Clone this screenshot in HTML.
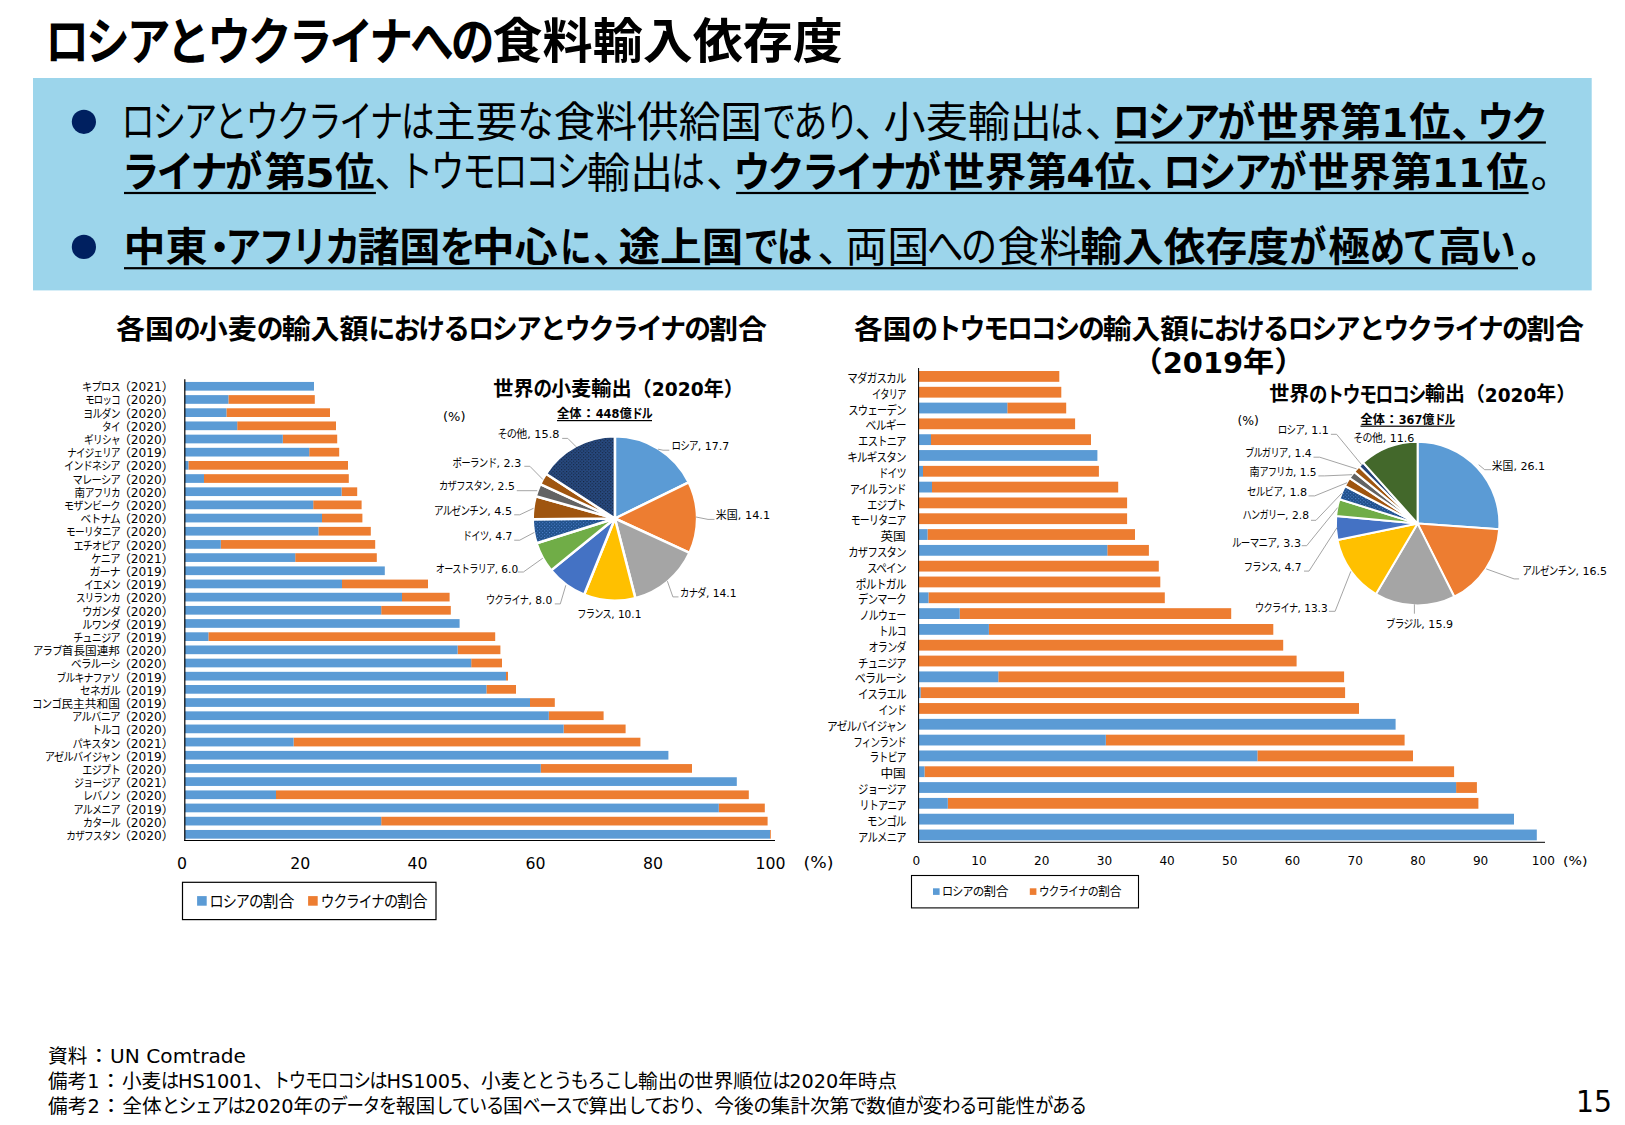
<!DOCTYPE html>
<html lang="ja"><head><meta charset="utf-8"><title>ロシアとウクライナへの食料輸入依存度</title>
<style>html,body{margin:0;padding:0;background:#fff}body{width:1625px;height:1125px;overflow:hidden}</style></head>
<body>
<svg width="1625" height="1125" viewBox="0 0 1625 1125" style="display:block;font-family:'DejaVu Sans','Liberation Sans','Noto Sans CJK JP',sans-serif">
<rect x="33.00" y="78.00" width="1558.70" height="212.40" fill="#9CD5EB"/>
<circle cx="83.9" cy="121.8" r="12.1" fill="#002060"/>
<circle cx="83.9" cy="246.9" r="12.1" fill="#002060"/>
<text font-size="47.60"><tspan x="45.35" y="60.10" font-size="50.93" letter-spacing="-0.070em" textLength="446.06" lengthAdjust="spacingAndGlyphs" font-weight="700">ロシアとウクライナへの</tspan><tspan x="492.55" y="58.01" font-size="47.60" letter-spacing="0.000em" textLength="350.35" lengthAdjust="spacingAndGlyphs" font-weight="700">食料輸入依存度</tspan></text>
<text font-size="41.80"><tspan x="121.35" y="136.50" font-size="43.05" letter-spacing="-0.070em" textLength="310.78" lengthAdjust="spacingAndGlyphs" font-weight="400">ロシアとウクライナは</tspan><tspan x="433.70" y="137.13" font-size="41.80" letter-spacing="0.000em" textLength="83.68" lengthAdjust="spacingAndGlyphs" font-weight="400">主要</tspan><tspan x="517.14" y="136.50" font-size="43.05" letter-spacing="-0.070em" textLength="33.86" lengthAdjust="spacingAndGlyphs" font-weight="400">な</tspan><tspan x="553.74" y="137.13" font-size="41.80" letter-spacing="0.000em" textLength="208.30" lengthAdjust="spacingAndGlyphs" font-weight="400">食料供給国</tspan><tspan x="761.88" y="136.50" font-size="43.05" letter-spacing="-0.070em" textLength="94.79" lengthAdjust="spacingAndGlyphs" font-weight="400">であり</tspan><tspan x="854.30" y="136.50" font-size="41.80" font-weight="400">、</tspan><tspan x="883.63" y="137.13" font-size="41.80" letter-spacing="0.000em" textLength="168.29" lengthAdjust="spacingAndGlyphs" font-weight="400">小麦輸出</tspan><tspan x="1049.60" y="136.50" font-size="43.05" letter-spacing="-0.070em" textLength="31.52" lengthAdjust="spacingAndGlyphs" font-weight="400">は</tspan><tspan x="1084.80" y="136.50" font-size="41.80" font-weight="400">、</tspan><tspan x="1112.49" y="136.50" font-size="42.59" letter-spacing="-0.070em" textLength="140.02" lengthAdjust="spacingAndGlyphs" font-weight="700">ロシアが</tspan><tspan x="1256.84" y="135.58" font-size="39.80" letter-spacing="0.000em" textLength="124.94" lengthAdjust="spacingAndGlyphs" font-weight="700">世界第</tspan><tspan x="1381.35" y="136.50" font-size="39.80" letter-spacing="0.000em" textLength="26.89" lengthAdjust="spacingAndGlyphs" font-weight="700">1</tspan><tspan x="1409.28" y="135.58" font-size="39.80" letter-spacing="0.000em" textLength="41.45" lengthAdjust="spacingAndGlyphs" font-weight="700">位</tspan><tspan x="1451.24" y="136.50" font-size="39.80" font-weight="700">、</tspan><tspan x="1477.15" y="136.50" font-size="42.59" letter-spacing="-0.070em" textLength="68.44" lengthAdjust="spacingAndGlyphs" font-weight="700">ウク</tspan></text>
<rect x="1114.80" y="141.40" width="431.10" height="2.20" fill="#000"/>
<text font-size="41.80"><tspan x="122.09" y="187.00" font-size="42.59" letter-spacing="-0.070em" textLength="137.56" lengthAdjust="spacingAndGlyphs" font-weight="700">ライナが</tspan><tspan x="264.36" y="186.08" font-size="39.80" letter-spacing="0.000em" textLength="42.14" lengthAdjust="spacingAndGlyphs" font-weight="700">第</tspan><tspan x="304.99" y="187.00" font-size="39.80" letter-spacing="0.000em" textLength="29.74" lengthAdjust="spacingAndGlyphs" font-weight="700">5</tspan><tspan x="334.91" y="186.08" font-size="39.80" letter-spacing="0.000em" textLength="39.58" lengthAdjust="spacingAndGlyphs" font-weight="700">位</tspan><tspan x="373.95" y="187.00" font-size="41.80" font-weight="400">、</tspan><tspan x="399.34" y="187.00" font-size="43.05" letter-spacing="-0.070em" textLength="188.65" lengthAdjust="spacingAndGlyphs" font-weight="400">トウモロコシ</tspan><tspan x="586.87" y="187.63" font-size="41.80" letter-spacing="0.000em" textLength="86.37" lengthAdjust="spacingAndGlyphs" font-weight="400">輸出</tspan><tspan x="670.90" y="187.00" font-size="43.05" letter-spacing="-0.070em" textLength="31.52" lengthAdjust="spacingAndGlyphs" font-weight="400">は</tspan><tspan x="705.95" y="187.00" font-size="41.80" font-weight="400">、</tspan><tspan x="733.46" y="187.00" font-size="42.59" letter-spacing="-0.070em" textLength="204.70" lengthAdjust="spacingAndGlyphs" font-weight="700">ウクライナが</tspan><tspan x="943.35" y="186.08" font-size="39.80" letter-spacing="0.000em" textLength="124.01" lengthAdjust="spacingAndGlyphs" font-weight="700">世界第</tspan><tspan x="1066.17" y="187.00" font-size="39.80" letter-spacing="0.000em" textLength="28.29" lengthAdjust="spacingAndGlyphs" font-weight="700">4</tspan><tspan x="1094.49" y="186.08" font-size="39.80" letter-spacing="0.000em" textLength="41.04" lengthAdjust="spacingAndGlyphs" font-weight="700">位</tspan><tspan x="1136.39" y="187.00" font-size="39.80" font-weight="700">、</tspan><tspan x="1162.96" y="187.00" font-size="42.59" letter-spacing="-0.070em" textLength="140.94" lengthAdjust="spacingAndGlyphs" font-weight="700">ロシアが</tspan><tspan x="1307.95" y="186.08" font-size="39.80" letter-spacing="0.000em" textLength="124.11" lengthAdjust="spacingAndGlyphs" font-weight="700">世界第</tspan><tspan x="1432.07" y="187.00" font-size="39.80" letter-spacing="0.000em" textLength="52.29" lengthAdjust="spacingAndGlyphs" font-weight="700">11</tspan><tspan x="1486.27" y="186.08" font-size="39.80" letter-spacing="0.000em" textLength="42.18" lengthAdjust="spacingAndGlyphs" font-weight="700">位</tspan><tspan x="1530.45" y="187.00" font-size="41.80" font-weight="400">。</tspan></text>
<rect x="124.00" y="191.90" width="251.90" height="2.20" fill="#000"/>
<rect x="736.10" y="191.90" width="792.50" height="2.20" fill="#000"/>
<text font-size="41.80"><tspan x="123.63" y="260.88" font-size="39.80" letter-spacing="0.000em" textLength="83.93" lengthAdjust="spacingAndGlyphs" font-weight="700">中東</tspan><tspan x="199.80" y="261.80" font-size="39.80" font-weight="700">・</tspan><tspan x="225.60" y="261.80" font-size="42.59" letter-spacing="-0.070em" textLength="132.35" lengthAdjust="spacingAndGlyphs" font-weight="700">アフリカ</tspan><tspan x="358.06" y="260.88" font-size="39.80" letter-spacing="0.000em" textLength="82.65" lengthAdjust="spacingAndGlyphs" font-weight="700">諸国</tspan><tspan x="439.68" y="261.80" font-size="42.59" letter-spacing="-0.070em" textLength="33.60" lengthAdjust="spacingAndGlyphs" font-weight="700">を</tspan><tspan x="471.85" y="260.88" font-size="39.80" letter-spacing="0.000em" textLength="85.80" lengthAdjust="spacingAndGlyphs" font-weight="700">中心</tspan><tspan x="560.43" y="261.80" font-size="42.59" letter-spacing="-0.070em" textLength="28.79" lengthAdjust="spacingAndGlyphs" font-weight="700">に</tspan><tspan x="593.04" y="261.80" font-size="39.80" font-weight="700">、</tspan><tspan x="618.46" y="260.88" font-size="39.80" letter-spacing="0.000em" textLength="124.87" lengthAdjust="spacingAndGlyphs" font-weight="700">途上国</tspan><tspan x="743.72" y="261.80" font-size="42.59" letter-spacing="-0.070em" textLength="65.95" lengthAdjust="spacingAndGlyphs" font-weight="700">では</tspan><tspan x="817.35" y="261.80" font-size="41.80" font-weight="400">、</tspan><tspan x="845.18" y="262.43" font-size="41.80" letter-spacing="0.000em" textLength="84.09" lengthAdjust="spacingAndGlyphs" font-weight="400">両国</tspan><tspan x="926.91" y="261.80" font-size="43.05" letter-spacing="-0.070em" textLength="67.71" lengthAdjust="spacingAndGlyphs" font-weight="400">への</tspan><tspan x="997.42" y="262.43" font-size="41.80" letter-spacing="0.000em" textLength="84.05" lengthAdjust="spacingAndGlyphs" font-weight="400">食料</tspan><tspan x="1080.25" y="260.88" font-size="39.80" letter-spacing="0.000em" textLength="208.60" lengthAdjust="spacingAndGlyphs" font-weight="700">輸入依存度</tspan><tspan x="1289.12" y="261.80" font-size="42.59" letter-spacing="-0.070em" textLength="34.90" lengthAdjust="spacingAndGlyphs" font-weight="700">が</tspan><tspan x="1328.26" y="260.88" font-size="39.80" letter-spacing="0.000em" textLength="41.67" lengthAdjust="spacingAndGlyphs" font-weight="700">極</tspan><tspan x="1370.12" y="261.80" font-size="42.59" letter-spacing="-0.070em" textLength="65.37" lengthAdjust="spacingAndGlyphs" font-weight="700">めて</tspan><tspan x="1437.90" y="260.88" font-size="39.80" letter-spacing="0.000em" textLength="43.41" lengthAdjust="spacingAndGlyphs" font-weight="700">高</tspan><tspan x="1479.85" y="261.80" font-size="42.59" letter-spacing="-0.070em" textLength="33.30" lengthAdjust="spacingAndGlyphs" font-weight="700">い</tspan><tspan x="1520.89" y="261.80" font-size="39.80" font-weight="700">。</tspan></text>
<rect x="124.00" y="267.10" width="1394.00" height="2.20" fill="#000"/>
<text font-size="27.00" font-weight="700" fill="#000"><tspan x="116.00" y="338.58" font-size="27.00" textLength="57.92" lengthAdjust="spacingAndGlyphs">各国</tspan><tspan x="173.92" y="339.20" font-size="28.89" letter-spacing="-0.070em" textLength="24.90" lengthAdjust="spacingAndGlyphs">の</tspan><tspan x="198.82" y="338.58" font-size="27.00" textLength="57.92" lengthAdjust="spacingAndGlyphs">小麦</tspan><tspan x="256.74" y="339.20" font-size="28.89" letter-spacing="-0.070em" textLength="24.90" lengthAdjust="spacingAndGlyphs">の</tspan><tspan x="281.65" y="338.58" font-size="27.00" textLength="86.88" lengthAdjust="spacingAndGlyphs">輸入額</tspan><tspan x="368.52" y="339.20" font-size="28.89" letter-spacing="-0.070em" textLength="99.62" lengthAdjust="spacingAndGlyphs">における</tspan><tspan x="468.14" y="339.20" font-size="28.89" letter-spacing="-0.070em" textLength="71.67" lengthAdjust="spacingAndGlyphs">ロシア</tspan><tspan x="539.82" y="339.20" font-size="28.89" letter-spacing="-0.070em" textLength="24.90" lengthAdjust="spacingAndGlyphs">と</tspan><tspan x="564.72" y="339.20" font-size="28.89" letter-spacing="-0.070em" textLength="119.46" lengthAdjust="spacingAndGlyphs">ウクライナ</tspan><tspan x="684.18" y="339.20" font-size="28.89" letter-spacing="-0.070em" textLength="24.90" lengthAdjust="spacingAndGlyphs">の</tspan><tspan x="709.08" y="338.58" font-size="27.00" textLength="57.92" lengthAdjust="spacingAndGlyphs">割合</tspan></text>
<text font-size="27.00" font-weight="700" fill="#000"><tspan x="854.00" y="338.58" font-size="27.00" textLength="57.41" lengthAdjust="spacingAndGlyphs">各国</tspan><tspan x="911.41" y="339.20" font-size="28.89" letter-spacing="-0.070em" textLength="24.69" lengthAdjust="spacingAndGlyphs">の</tspan><tspan x="936.10" y="339.20" font-size="28.89" letter-spacing="-0.070em" textLength="142.10" lengthAdjust="spacingAndGlyphs">トウモロコシ</tspan><tspan x="1078.20" y="339.20" font-size="28.89" letter-spacing="-0.070em" textLength="24.69" lengthAdjust="spacingAndGlyphs">の</tspan><tspan x="1102.88" y="338.58" font-size="27.00" textLength="86.12" lengthAdjust="spacingAndGlyphs">輸入額</tspan><tspan x="1189.00" y="339.20" font-size="28.89" letter-spacing="-0.070em" textLength="98.75" lengthAdjust="spacingAndGlyphs">における</tspan><tspan x="1287.75" y="339.20" font-size="28.89" letter-spacing="-0.070em" textLength="71.05" lengthAdjust="spacingAndGlyphs">ロシア</tspan><tspan x="1358.80" y="339.20" font-size="28.89" letter-spacing="-0.070em" textLength="24.69" lengthAdjust="spacingAndGlyphs">と</tspan><tspan x="1383.49" y="339.20" font-size="28.89" letter-spacing="-0.070em" textLength="118.41" lengthAdjust="spacingAndGlyphs">ウクライナ</tspan><tspan x="1501.90" y="339.20" font-size="28.89" letter-spacing="-0.070em" textLength="24.69" lengthAdjust="spacingAndGlyphs">の</tspan><tspan x="1526.59" y="338.58" font-size="27.00" textLength="57.41" lengthAdjust="spacingAndGlyphs">割合</tspan></text>
<text font-size="28.50" font-weight="700" fill="#000"><tspan x="1131.50" y="372.04" font-size="28.50" textLength="31.18" lengthAdjust="spacingAndGlyphs">（</tspan><tspan x="1162.68" y="372.70" font-size="28.50" textLength="80.45" lengthAdjust="spacingAndGlyphs">2019</tspan><tspan x="1243.13" y="372.04" font-size="28.50" textLength="31.18" lengthAdjust="spacingAndGlyphs">年</tspan><tspan x="1274.32" y="372.04" font-size="28.50" textLength="31.18" lengthAdjust="spacingAndGlyphs">）</tspan></text>
<rect x="184.80" y="381.94" width="129.20" height="8.70" fill="#5B9BD5"/>
<text font-size="11.30" font-weight="400" fill="#000"><tspan x="82.00" y="391.29" font-size="11.64" letter-spacing="-0.070em" textLength="37.90" lengthAdjust="spacingAndGlyphs">キプロス</tspan><tspan x="118.40" y="391.47" font-size="11.80" textLength="12.38" lengthAdjust="spacingAndGlyphs">（</tspan><tspan x="130.78" y="391.29" font-size="11.80" textLength="30.94" lengthAdjust="spacingAndGlyphs">2021</tspan><tspan x="161.72" y="391.47" font-size="11.80" textLength="12.38" lengthAdjust="spacingAndGlyphs">）</tspan></text>
<rect x="228.40" y="395.12" width="86.40" height="8.70" fill="#ED7D31"/>
<rect x="184.80" y="395.12" width="43.60" height="8.70" fill="#5B9BD5"/>
<text font-size="11.30" font-weight="400" fill="#000"><tspan x="85.20" y="404.49" font-size="11.64" letter-spacing="-0.070em" textLength="34.70" lengthAdjust="spacingAndGlyphs">モロッコ</tspan><tspan x="118.40" y="404.66" font-size="11.80" textLength="12.38" lengthAdjust="spacingAndGlyphs">（</tspan><tspan x="130.78" y="404.49" font-size="11.80" textLength="30.94" lengthAdjust="spacingAndGlyphs">2020</tspan><tspan x="161.72" y="404.66" font-size="11.80" textLength="12.38" lengthAdjust="spacingAndGlyphs">）</tspan></text>
<rect x="226.40" y="408.29" width="103.60" height="8.70" fill="#ED7D31"/>
<rect x="184.80" y="408.29" width="41.60" height="8.70" fill="#5B9BD5"/>
<text font-size="11.30" font-weight="400" fill="#000"><tspan x="83.30" y="417.68" font-size="11.64" letter-spacing="-0.070em" textLength="36.60" lengthAdjust="spacingAndGlyphs">ヨルダン</tspan><tspan x="118.40" y="417.86" font-size="11.80" textLength="12.38" lengthAdjust="spacingAndGlyphs">（</tspan><tspan x="130.78" y="417.68" font-size="11.80" textLength="30.94" lengthAdjust="spacingAndGlyphs">2020</tspan><tspan x="161.72" y="417.86" font-size="11.80" textLength="12.38" lengthAdjust="spacingAndGlyphs">）</tspan></text>
<rect x="237.20" y="421.47" width="98.80" height="8.70" fill="#ED7D31"/>
<rect x="184.80" y="421.47" width="52.40" height="8.70" fill="#5B9BD5"/>
<text font-size="11.30" font-weight="400" fill="#000"><tspan x="102.00" y="430.88" font-size="11.64" letter-spacing="-0.070em" textLength="17.90" lengthAdjust="spacingAndGlyphs">タイ</tspan><tspan x="118.40" y="431.06" font-size="11.80" textLength="12.38" lengthAdjust="spacingAndGlyphs">（</tspan><tspan x="130.78" y="430.88" font-size="11.80" textLength="30.94" lengthAdjust="spacingAndGlyphs">2020</tspan><tspan x="161.72" y="431.06" font-size="11.80" textLength="12.38" lengthAdjust="spacingAndGlyphs">）</tspan></text>
<rect x="282.80" y="434.65" width="54.40" height="8.70" fill="#ED7D31"/>
<rect x="184.80" y="434.65" width="98.00" height="8.70" fill="#5B9BD5"/>
<text font-size="11.30" font-weight="400" fill="#000"><tspan x="84.10" y="444.08" font-size="11.64" letter-spacing="-0.070em" textLength="35.80" lengthAdjust="spacingAndGlyphs">ギリシャ</tspan><tspan x="118.40" y="444.25" font-size="11.80" textLength="12.38" lengthAdjust="spacingAndGlyphs">（</tspan><tspan x="130.78" y="444.08" font-size="11.80" textLength="30.94" lengthAdjust="spacingAndGlyphs">2020</tspan><tspan x="161.72" y="444.25" font-size="11.80" textLength="12.38" lengthAdjust="spacingAndGlyphs">）</tspan></text>
<rect x="309.20" y="447.82" width="30.00" height="8.70" fill="#ED7D31"/>
<rect x="184.80" y="447.82" width="124.40" height="8.70" fill="#5B9BD5"/>
<text font-size="11.30" font-weight="400" fill="#000"><tspan x="67.30" y="457.27" font-size="11.64" letter-spacing="-0.070em" textLength="52.60" lengthAdjust="spacingAndGlyphs">ナイジェリア</tspan><tspan x="118.40" y="457.45" font-size="11.80" textLength="12.38" lengthAdjust="spacingAndGlyphs">（</tspan><tspan x="130.78" y="457.27" font-size="11.80" textLength="30.94" lengthAdjust="spacingAndGlyphs">2019</tspan><tspan x="161.72" y="457.45" font-size="11.80" textLength="12.38" lengthAdjust="spacingAndGlyphs">）</tspan></text>
<rect x="188.40" y="461.00" width="159.60" height="8.70" fill="#ED7D31"/>
<rect x="184.80" y="461.00" width="3.60" height="8.70" fill="#5B9BD5"/>
<text font-size="11.30" font-weight="400" fill="#000"><tspan x="64.10" y="470.47" font-size="11.64" letter-spacing="-0.070em" textLength="55.80" lengthAdjust="spacingAndGlyphs">インドネシア</tspan><tspan x="118.40" y="470.65" font-size="11.80" textLength="12.38" lengthAdjust="spacingAndGlyphs">（</tspan><tspan x="130.78" y="470.47" font-size="11.80" textLength="30.94" lengthAdjust="spacingAndGlyphs">2020</tspan><tspan x="161.72" y="470.65" font-size="11.80" textLength="12.38" lengthAdjust="spacingAndGlyphs">）</tspan></text>
<rect x="204.00" y="474.18" width="144.80" height="8.70" fill="#ED7D31"/>
<rect x="184.80" y="474.18" width="19.20" height="8.70" fill="#5B9BD5"/>
<text font-size="11.30" font-weight="400" fill="#000"><tspan x="72.60" y="483.67" font-size="11.64" letter-spacing="-0.070em" textLength="47.30" lengthAdjust="spacingAndGlyphs">マレーシア</tspan><tspan x="118.40" y="483.84" font-size="11.80" textLength="12.38" lengthAdjust="spacingAndGlyphs">（</tspan><tspan x="130.78" y="483.67" font-size="11.80" textLength="30.94" lengthAdjust="spacingAndGlyphs">2020</tspan><tspan x="161.72" y="483.84" font-size="11.80" textLength="12.38" lengthAdjust="spacingAndGlyphs">）</tspan></text>
<rect x="341.60" y="487.35" width="15.60" height="8.70" fill="#ED7D31"/>
<rect x="184.80" y="487.35" width="156.80" height="8.70" fill="#5B9BD5"/>
<text font-size="11.30" font-weight="400" fill="#000"><tspan x="74.50" y="497.03" font-size="11.30" textLength="10.56" lengthAdjust="spacingAndGlyphs">南</tspan><tspan x="85.06" y="496.86" font-size="11.64" letter-spacing="-0.070em" textLength="34.84" lengthAdjust="spacingAndGlyphs">アフリカ</tspan><tspan x="118.40" y="497.04" font-size="11.80" textLength="12.38" lengthAdjust="spacingAndGlyphs">（</tspan><tspan x="130.78" y="496.86" font-size="11.80" textLength="30.94" lengthAdjust="spacingAndGlyphs">2020</tspan><tspan x="161.72" y="497.04" font-size="11.80" textLength="12.38" lengthAdjust="spacingAndGlyphs">）</tspan></text>
<rect x="313.20" y="500.53" width="48.40" height="8.70" fill="#ED7D31"/>
<rect x="184.80" y="500.53" width="128.40" height="8.70" fill="#5B9BD5"/>
<text font-size="11.30" font-weight="400" fill="#000"><tspan x="64.10" y="510.06" font-size="11.64" letter-spacing="-0.070em" textLength="55.80" lengthAdjust="spacingAndGlyphs">モザンビーク</tspan><tspan x="118.40" y="510.24" font-size="11.80" textLength="12.38" lengthAdjust="spacingAndGlyphs">（</tspan><tspan x="130.78" y="510.06" font-size="11.80" textLength="30.94" lengthAdjust="spacingAndGlyphs">2020</tspan><tspan x="161.72" y="510.24" font-size="11.80" textLength="12.38" lengthAdjust="spacingAndGlyphs">）</tspan></text>
<rect x="322.00" y="513.71" width="40.40" height="8.70" fill="#ED7D31"/>
<rect x="184.80" y="513.71" width="137.20" height="8.70" fill="#5B9BD5"/>
<text font-size="11.30" font-weight="400" fill="#000"><tspan x="80.60" y="523.26" font-size="11.64" letter-spacing="-0.070em" textLength="39.30" lengthAdjust="spacingAndGlyphs">ベトナム</tspan><tspan x="118.40" y="523.44" font-size="11.80" textLength="12.38" lengthAdjust="spacingAndGlyphs">（</tspan><tspan x="130.78" y="523.26" font-size="11.80" textLength="30.94" lengthAdjust="spacingAndGlyphs">2020</tspan><tspan x="161.72" y="523.44" font-size="11.80" textLength="12.38" lengthAdjust="spacingAndGlyphs">）</tspan></text>
<rect x="318.40" y="526.89" width="52.40" height="8.70" fill="#ED7D31"/>
<rect x="184.80" y="526.89" width="133.60" height="8.70" fill="#5B9BD5"/>
<text font-size="11.30" font-weight="400" fill="#000"><tspan x="66.00" y="536.46" font-size="11.64" letter-spacing="-0.070em" textLength="53.90" lengthAdjust="spacingAndGlyphs">モーリタニア</tspan><tspan x="118.40" y="536.63" font-size="11.80" textLength="12.38" lengthAdjust="spacingAndGlyphs">（</tspan><tspan x="130.78" y="536.46" font-size="11.80" textLength="30.94" lengthAdjust="spacingAndGlyphs">2020</tspan><tspan x="161.72" y="536.63" font-size="11.80" textLength="12.38" lengthAdjust="spacingAndGlyphs">）</tspan></text>
<rect x="220.80" y="540.06" width="154.40" height="8.70" fill="#ED7D31"/>
<rect x="184.80" y="540.06" width="36.00" height="8.70" fill="#5B9BD5"/>
<text font-size="11.30" font-weight="400" fill="#000"><tspan x="73.40" y="549.65" font-size="11.64" letter-spacing="-0.070em" textLength="46.50" lengthAdjust="spacingAndGlyphs">エチオピア</tspan><tspan x="118.40" y="549.83" font-size="11.80" textLength="12.38" lengthAdjust="spacingAndGlyphs">（</tspan><tspan x="130.78" y="549.65" font-size="11.80" textLength="30.94" lengthAdjust="spacingAndGlyphs">2020</tspan><tspan x="161.72" y="549.83" font-size="11.80" textLength="12.38" lengthAdjust="spacingAndGlyphs">）</tspan></text>
<rect x="295.20" y="553.24" width="81.60" height="8.70" fill="#ED7D31"/>
<rect x="184.80" y="553.24" width="110.40" height="8.70" fill="#5B9BD5"/>
<text font-size="11.30" font-weight="400" fill="#000"><tspan x="91.30" y="562.85" font-size="11.64" letter-spacing="-0.070em" textLength="28.60" lengthAdjust="spacingAndGlyphs">ケニア</tspan><tspan x="118.40" y="563.03" font-size="11.80" textLength="12.38" lengthAdjust="spacingAndGlyphs">（</tspan><tspan x="130.78" y="562.85" font-size="11.80" textLength="30.94" lengthAdjust="spacingAndGlyphs">2021</tspan><tspan x="161.72" y="563.03" font-size="11.80" textLength="12.38" lengthAdjust="spacingAndGlyphs">）</tspan></text>
<rect x="184.80" y="566.42" width="200.00" height="8.70" fill="#5B9BD5"/>
<text font-size="11.30" font-weight="400" fill="#000"><tspan x="89.40" y="576.05" font-size="11.64" letter-spacing="-0.070em" textLength="30.50" lengthAdjust="spacingAndGlyphs">ガーナ</tspan><tspan x="118.40" y="576.22" font-size="11.80" textLength="12.38" lengthAdjust="spacingAndGlyphs">（</tspan><tspan x="130.78" y="576.05" font-size="11.80" textLength="30.94" lengthAdjust="spacingAndGlyphs">2019</tspan><tspan x="161.72" y="576.22" font-size="11.80" textLength="12.38" lengthAdjust="spacingAndGlyphs">）</tspan></text>
<rect x="342.00" y="579.59" width="86.00" height="8.70" fill="#ED7D31"/>
<rect x="184.80" y="579.59" width="157.20" height="8.70" fill="#5B9BD5"/>
<text font-size="11.30" font-weight="400" fill="#000"><tspan x="84.10" y="589.24" font-size="11.64" letter-spacing="-0.070em" textLength="35.80" lengthAdjust="spacingAndGlyphs">イエメン</tspan><tspan x="118.40" y="589.42" font-size="11.80" textLength="12.38" lengthAdjust="spacingAndGlyphs">（</tspan><tspan x="130.78" y="589.24" font-size="11.80" textLength="30.94" lengthAdjust="spacingAndGlyphs">2019</tspan><tspan x="161.72" y="589.42" font-size="11.80" textLength="12.38" lengthAdjust="spacingAndGlyphs">）</tspan></text>
<rect x="402.00" y="592.77" width="47.60" height="8.70" fill="#ED7D31"/>
<rect x="184.80" y="592.77" width="217.20" height="8.70" fill="#5B9BD5"/>
<text font-size="11.30" font-weight="400" fill="#000"><tspan x="76.10" y="602.44" font-size="11.64" letter-spacing="-0.070em" textLength="43.80" lengthAdjust="spacingAndGlyphs">スリランカ</tspan><tspan x="118.40" y="602.62" font-size="11.80" textLength="12.38" lengthAdjust="spacingAndGlyphs">（</tspan><tspan x="130.78" y="602.44" font-size="11.80" textLength="30.94" lengthAdjust="spacingAndGlyphs">2020</tspan><tspan x="161.72" y="602.62" font-size="11.80" textLength="12.38" lengthAdjust="spacingAndGlyphs">）</tspan></text>
<rect x="381.20" y="605.95" width="69.60" height="8.70" fill="#ED7D31"/>
<rect x="184.80" y="605.95" width="196.40" height="8.70" fill="#5B9BD5"/>
<text font-size="11.30" font-weight="400" fill="#000"><tspan x="82.30" y="615.64" font-size="11.64" letter-spacing="-0.070em" textLength="37.60" lengthAdjust="spacingAndGlyphs">ウガンダ</tspan><tspan x="118.40" y="615.81" font-size="11.80" textLength="12.38" lengthAdjust="spacingAndGlyphs">（</tspan><tspan x="130.78" y="615.64" font-size="11.80" textLength="30.94" lengthAdjust="spacingAndGlyphs">2020</tspan><tspan x="161.72" y="615.81" font-size="11.80" textLength="12.38" lengthAdjust="spacingAndGlyphs">）</tspan></text>
<rect x="184.80" y="619.12" width="274.80" height="8.70" fill="#5B9BD5"/>
<text font-size="11.30" font-weight="400" fill="#000"><tspan x="82.30" y="628.83" font-size="11.64" letter-spacing="-0.070em" textLength="37.60" lengthAdjust="spacingAndGlyphs">ルワンダ</tspan><tspan x="118.40" y="629.01" font-size="11.80" textLength="12.38" lengthAdjust="spacingAndGlyphs">（</tspan><tspan x="130.78" y="628.83" font-size="11.80" textLength="30.94" lengthAdjust="spacingAndGlyphs">2019</tspan><tspan x="161.72" y="629.01" font-size="11.80" textLength="12.38" lengthAdjust="spacingAndGlyphs">）</tspan></text>
<rect x="208.40" y="632.30" width="286.80" height="8.70" fill="#ED7D31"/>
<rect x="184.80" y="632.30" width="23.60" height="8.70" fill="#5B9BD5"/>
<text font-size="11.30" font-weight="400" fill="#000"><tspan x="73.20" y="642.03" font-size="11.64" letter-spacing="-0.070em" textLength="46.70" lengthAdjust="spacingAndGlyphs">チュニジア</tspan><tspan x="118.40" y="642.21" font-size="11.80" textLength="12.38" lengthAdjust="spacingAndGlyphs">（</tspan><tspan x="130.78" y="642.03" font-size="11.80" textLength="30.94" lengthAdjust="spacingAndGlyphs">2019</tspan><tspan x="161.72" y="642.21" font-size="11.80" textLength="12.38" lengthAdjust="spacingAndGlyphs">）</tspan></text>
<rect x="457.60" y="645.48" width="42.80" height="8.70" fill="#ED7D31"/>
<rect x="184.80" y="645.48" width="272.80" height="8.70" fill="#5B9BD5"/>
<text font-size="11.30" font-weight="400" fill="#000"><tspan x="33.00" y="655.23" font-size="11.64" letter-spacing="-0.070em" textLength="28.77" lengthAdjust="spacingAndGlyphs">アラブ</tspan><tspan x="61.77" y="655.40" font-size="11.30" textLength="58.13" lengthAdjust="spacingAndGlyphs">首長国連邦</tspan><tspan x="118.40" y="655.41" font-size="11.80" textLength="12.38" lengthAdjust="spacingAndGlyphs">（</tspan><tspan x="130.78" y="655.23" font-size="11.80" textLength="30.94" lengthAdjust="spacingAndGlyphs">2020</tspan><tspan x="161.72" y="655.41" font-size="11.80" textLength="12.38" lengthAdjust="spacingAndGlyphs">）</tspan></text>
<rect x="471.20" y="658.66" width="30.80" height="8.70" fill="#ED7D31"/>
<rect x="184.80" y="658.66" width="286.40" height="8.70" fill="#5B9BD5"/>
<text font-size="11.30" font-weight="400" fill="#000"><tspan x="71.10" y="668.43" font-size="11.64" letter-spacing="-0.070em" textLength="48.80" lengthAdjust="spacingAndGlyphs">ベラルーシ</tspan><tspan x="118.40" y="668.60" font-size="11.80" textLength="12.38" lengthAdjust="spacingAndGlyphs">（</tspan><tspan x="130.78" y="668.43" font-size="11.80" textLength="30.94" lengthAdjust="spacingAndGlyphs">2020</tspan><tspan x="161.72" y="668.60" font-size="11.80" textLength="12.38" lengthAdjust="spacingAndGlyphs">）</tspan></text>
<rect x="506.00" y="671.83" width="2.00" height="8.70" fill="#ED7D31"/>
<rect x="184.80" y="671.83" width="321.20" height="8.70" fill="#5B9BD5"/>
<text font-size="11.30" font-weight="400" fill="#000"><tspan x="56.50" y="681.62" font-size="11.64" letter-spacing="-0.070em" textLength="63.40" lengthAdjust="spacingAndGlyphs">ブルキナファソ</tspan><tspan x="118.40" y="681.80" font-size="11.80" textLength="12.38" lengthAdjust="spacingAndGlyphs">（</tspan><tspan x="130.78" y="681.62" font-size="11.80" textLength="30.94" lengthAdjust="spacingAndGlyphs">2019</tspan><tspan x="161.72" y="681.80" font-size="11.80" textLength="12.38" lengthAdjust="spacingAndGlyphs">）</tspan></text>
<rect x="486.40" y="685.01" width="29.60" height="8.70" fill="#ED7D31"/>
<rect x="184.80" y="685.01" width="301.60" height="8.70" fill="#5B9BD5"/>
<text font-size="11.30" font-weight="400" fill="#000"><tspan x="79.90" y="694.82" font-size="11.64" letter-spacing="-0.070em" textLength="40.00" lengthAdjust="spacingAndGlyphs">セネガル</tspan><tspan x="118.40" y="695.00" font-size="11.80" textLength="12.38" lengthAdjust="spacingAndGlyphs">（</tspan><tspan x="130.78" y="694.82" font-size="11.80" textLength="30.94" lengthAdjust="spacingAndGlyphs">2019</tspan><tspan x="161.72" y="695.00" font-size="11.80" textLength="12.38" lengthAdjust="spacingAndGlyphs">）</tspan></text>
<rect x="530.00" y="698.19" width="24.80" height="8.70" fill="#ED7D31"/>
<rect x="184.80" y="698.19" width="345.20" height="8.70" fill="#5B9BD5"/>
<text font-size="11.30" font-weight="400" fill="#000"><tspan x="32.10" y="708.02" font-size="11.64" letter-spacing="-0.070em" textLength="29.07" lengthAdjust="spacingAndGlyphs">コンゴ</tspan><tspan x="61.17" y="708.19" font-size="11.30" textLength="58.73" lengthAdjust="spacingAndGlyphs">民主共和国</tspan><tspan x="118.40" y="708.19" font-size="11.80" textLength="12.38" lengthAdjust="spacingAndGlyphs">（</tspan><tspan x="130.78" y="708.02" font-size="11.80" textLength="30.94" lengthAdjust="spacingAndGlyphs">2019</tspan><tspan x="161.72" y="708.19" font-size="11.80" textLength="12.38" lengthAdjust="spacingAndGlyphs">）</tspan></text>
<rect x="548.80" y="711.36" width="54.80" height="8.70" fill="#ED7D31"/>
<rect x="184.80" y="711.36" width="364.00" height="8.70" fill="#5B9BD5"/>
<text font-size="11.30" font-weight="400" fill="#000"><tspan x="72.00" y="721.21" font-size="11.64" letter-spacing="-0.070em" textLength="47.90" lengthAdjust="spacingAndGlyphs">アルバニア</tspan><tspan x="118.40" y="721.39" font-size="11.80" textLength="12.38" lengthAdjust="spacingAndGlyphs">（</tspan><tspan x="130.78" y="721.21" font-size="11.80" textLength="30.94" lengthAdjust="spacingAndGlyphs">2020</tspan><tspan x="161.72" y="721.39" font-size="11.80" textLength="12.38" lengthAdjust="spacingAndGlyphs">）</tspan></text>
<rect x="563.60" y="724.54" width="62.00" height="8.70" fill="#ED7D31"/>
<rect x="184.80" y="724.54" width="378.80" height="8.70" fill="#5B9BD5"/>
<text font-size="11.30" font-weight="400" fill="#000"><tspan x="91.70" y="734.41" font-size="11.64" letter-spacing="-0.070em" textLength="28.20" lengthAdjust="spacingAndGlyphs">トルコ</tspan><tspan x="118.40" y="734.59" font-size="11.80" textLength="12.38" lengthAdjust="spacingAndGlyphs">（</tspan><tspan x="130.78" y="734.41" font-size="11.80" textLength="30.94" lengthAdjust="spacingAndGlyphs">2020</tspan><tspan x="161.72" y="734.59" font-size="11.80" textLength="12.38" lengthAdjust="spacingAndGlyphs">）</tspan></text>
<rect x="293.60" y="737.72" width="346.80" height="8.70" fill="#ED7D31"/>
<rect x="184.80" y="737.72" width="108.80" height="8.70" fill="#5B9BD5"/>
<text font-size="11.30" font-weight="400" fill="#000"><tspan x="72.60" y="747.61" font-size="11.64" letter-spacing="-0.070em" textLength="47.30" lengthAdjust="spacingAndGlyphs">パキスタン</tspan><tspan x="118.40" y="747.78" font-size="11.80" textLength="12.38" lengthAdjust="spacingAndGlyphs">（</tspan><tspan x="130.78" y="747.61" font-size="11.80" textLength="30.94" lengthAdjust="spacingAndGlyphs">2021</tspan><tspan x="161.72" y="747.78" font-size="11.80" textLength="12.38" lengthAdjust="spacingAndGlyphs">）</tspan></text>
<rect x="184.80" y="750.89" width="483.60" height="8.70" fill="#5B9BD5"/>
<text font-size="11.30" font-weight="400" fill="#000"><tspan x="44.80" y="760.80" font-size="11.64" letter-spacing="-0.070em" textLength="75.10" lengthAdjust="spacingAndGlyphs">アゼルバイジャン</tspan><tspan x="118.40" y="760.98" font-size="11.80" textLength="12.38" lengthAdjust="spacingAndGlyphs">（</tspan><tspan x="130.78" y="760.80" font-size="11.80" textLength="30.94" lengthAdjust="spacingAndGlyphs">2019</tspan><tspan x="161.72" y="760.98" font-size="11.80" textLength="12.38" lengthAdjust="spacingAndGlyphs">）</tspan></text>
<rect x="540.80" y="764.07" width="151.20" height="8.70" fill="#ED7D31"/>
<rect x="184.80" y="764.07" width="356.00" height="8.70" fill="#5B9BD5"/>
<text font-size="11.30" font-weight="400" fill="#000"><tspan x="82.30" y="774.00" font-size="11.64" letter-spacing="-0.070em" textLength="37.60" lengthAdjust="spacingAndGlyphs">エジプト</tspan><tspan x="118.40" y="774.18" font-size="11.80" textLength="12.38" lengthAdjust="spacingAndGlyphs">（</tspan><tspan x="130.78" y="774.00" font-size="11.80" textLength="30.94" lengthAdjust="spacingAndGlyphs">2020</tspan><tspan x="161.72" y="774.18" font-size="11.80" textLength="12.38" lengthAdjust="spacingAndGlyphs">）</tspan></text>
<rect x="184.80" y="777.25" width="552.00" height="8.70" fill="#5B9BD5"/>
<text font-size="11.30" font-weight="400" fill="#000"><tspan x="74.10" y="787.20" font-size="11.64" letter-spacing="-0.070em" textLength="45.80" lengthAdjust="spacingAndGlyphs">ジョージア</tspan><tspan x="118.40" y="787.38" font-size="11.80" textLength="12.38" lengthAdjust="spacingAndGlyphs">（</tspan><tspan x="130.78" y="787.20" font-size="11.80" textLength="30.94" lengthAdjust="spacingAndGlyphs">2021</tspan><tspan x="161.72" y="787.38" font-size="11.80" textLength="12.38" lengthAdjust="spacingAndGlyphs">）</tspan></text>
<rect x="276.00" y="790.43" width="472.80" height="8.70" fill="#ED7D31"/>
<rect x="184.80" y="790.43" width="91.20" height="8.70" fill="#5B9BD5"/>
<text font-size="11.30" font-weight="400" fill="#000"><tspan x="82.90" y="800.40" font-size="11.64" letter-spacing="-0.070em" textLength="37.00" lengthAdjust="spacingAndGlyphs">レバノン</tspan><tspan x="118.40" y="800.57" font-size="11.80" textLength="12.38" lengthAdjust="spacingAndGlyphs">（</tspan><tspan x="130.78" y="800.40" font-size="11.80" textLength="30.94" lengthAdjust="spacingAndGlyphs">2020</tspan><tspan x="161.72" y="800.57" font-size="11.80" textLength="12.38" lengthAdjust="spacingAndGlyphs">）</tspan></text>
<rect x="718.80" y="803.60" width="46.00" height="8.70" fill="#ED7D31"/>
<rect x="184.80" y="803.60" width="534.00" height="8.70" fill="#5B9BD5"/>
<text font-size="11.30" font-weight="400" fill="#000"><tspan x="73.50" y="813.59" font-size="11.64" letter-spacing="-0.070em" textLength="46.40" lengthAdjust="spacingAndGlyphs">アルメニア</tspan><tspan x="118.40" y="813.77" font-size="11.80" textLength="12.38" lengthAdjust="spacingAndGlyphs">（</tspan><tspan x="130.78" y="813.59" font-size="11.80" textLength="30.94" lengthAdjust="spacingAndGlyphs">2019</tspan><tspan x="161.72" y="813.77" font-size="11.80" textLength="12.38" lengthAdjust="spacingAndGlyphs">）</tspan></text>
<rect x="381.20" y="816.78" width="386.40" height="8.70" fill="#ED7D31"/>
<rect x="184.80" y="816.78" width="196.40" height="8.70" fill="#5B9BD5"/>
<text font-size="11.30" font-weight="400" fill="#000"><tspan x="82.90" y="826.79" font-size="11.64" letter-spacing="-0.070em" textLength="37.00" lengthAdjust="spacingAndGlyphs">カタール</tspan><tspan x="118.40" y="826.97" font-size="11.80" textLength="12.38" lengthAdjust="spacingAndGlyphs">（</tspan><tspan x="130.78" y="826.79" font-size="11.80" textLength="30.94" lengthAdjust="spacingAndGlyphs">2020</tspan><tspan x="161.72" y="826.97" font-size="11.80" textLength="12.38" lengthAdjust="spacingAndGlyphs">）</tspan></text>
<rect x="770.00" y="829.96" width="0.80" height="8.70" fill="#ED7D31"/>
<rect x="184.80" y="829.96" width="585.20" height="8.70" fill="#5B9BD5"/>
<text font-size="11.30" font-weight="400" fill="#000"><tspan x="66.20" y="839.99" font-size="11.64" letter-spacing="-0.070em" textLength="53.70" lengthAdjust="spacingAndGlyphs">カザフスタン</tspan><tspan x="118.40" y="840.16" font-size="11.80" textLength="12.38" lengthAdjust="spacingAndGlyphs">（</tspan><tspan x="130.78" y="839.99" font-size="11.80" textLength="30.94" lengthAdjust="spacingAndGlyphs">2020</tspan><tspan x="161.72" y="840.16" font-size="11.80" textLength="12.38" lengthAdjust="spacingAndGlyphs">）</tspan></text>
<line x1="184.80" y1="379.20" x2="184.80" y2="841.10" stroke="#000" stroke-width="1.20"/>
<line x1="184.20" y1="840.50" x2="775.00" y2="840.50" stroke="#000" stroke-width="1.20"/>
<text font-size="16.00" font-weight="400" fill="#000"><tspan x="177.00" y="869.00" font-size="16.00" textLength="10.00" lengthAdjust="spacingAndGlyphs">0</tspan></text>
<text font-size="16.00" font-weight="400" fill="#000"><tspan x="290.20" y="869.00" font-size="16.00" textLength="20.00" lengthAdjust="spacingAndGlyphs">20</tspan></text>
<text font-size="16.00" font-weight="400" fill="#000"><tspan x="407.60" y="869.00" font-size="16.00" textLength="20.00" lengthAdjust="spacingAndGlyphs">40</tspan></text>
<text font-size="16.00" font-weight="400" fill="#000"><tspan x="525.40" y="869.00" font-size="16.00" textLength="20.00" lengthAdjust="spacingAndGlyphs">60</tspan></text>
<text font-size="16.00" font-weight="400" fill="#000"><tspan x="643.00" y="869.00" font-size="16.00" textLength="20.00" lengthAdjust="spacingAndGlyphs">80</tspan></text>
<text font-size="16.00" font-weight="400" fill="#000"><tspan x="755.60" y="869.00" font-size="16.00" textLength="30.00" lengthAdjust="spacingAndGlyphs">100</tspan></text>
<text font-size="15.50" font-weight="400" fill="#000"><tspan x="803.50" y="868.30" font-size="15.50" textLength="30.00" lengthAdjust="spacingAndGlyphs">(%)</tspan></text>
<rect x="182.50" y="882.30" width="253.50" height="37.30" fill="#fff" stroke="#000" stroke-width="1.2"/>
<rect x="197.10" y="896.10" width="9.60" height="9.60" fill="#5B9BD5"/>
<text font-size="15.50" font-weight="400" fill="#000"><tspan x="209.50" y="907.20" font-size="15.96" letter-spacing="-0.070em" textLength="39.43" lengthAdjust="spacingAndGlyphs">ロシア</tspan><tspan x="248.93" y="907.20" font-size="15.96" letter-spacing="-0.070em" textLength="13.70" lengthAdjust="spacingAndGlyphs">の</tspan><tspan x="262.63" y="907.43" font-size="15.50" textLength="31.87" lengthAdjust="spacingAndGlyphs">割合</tspan></text>
<rect x="308.10" y="896.10" width="9.60" height="9.60" fill="#ED7D31"/>
<text font-size="15.50" font-weight="400" fill="#000"><tspan x="320.70" y="907.20" font-size="15.96" letter-spacing="-0.070em" textLength="63.19" lengthAdjust="spacingAndGlyphs">ウクライナ</tspan><tspan x="383.89" y="907.20" font-size="15.96" letter-spacing="-0.070em" textLength="13.17" lengthAdjust="spacingAndGlyphs">の</tspan><tspan x="397.06" y="907.43" font-size="15.50" textLength="30.64" lengthAdjust="spacingAndGlyphs">割合</tspan></text>
<rect x="918.60" y="371.01" width="140.70" height="10.80" fill="#ED7D31"/>
<text font-size="12.00" font-weight="400" fill="#000"><tspan x="847.20" y="383.01" font-size="12.36" letter-spacing="-0.070em" textLength="58.60" lengthAdjust="spacingAndGlyphs">マダガスカル</tspan></text>
<rect x="918.60" y="386.82" width="142.70" height="10.80" fill="#ED7D31"/>
<text font-size="12.00" font-weight="400" fill="#000"><tspan x="872.00" y="398.82" font-size="12.36" letter-spacing="-0.070em" textLength="33.80" lengthAdjust="spacingAndGlyphs">イタリア</tspan></text>
<rect x="1007.30" y="402.63" width="58.90" height="10.80" fill="#ED7D31"/>
<rect x="918.60" y="402.63" width="88.70" height="10.80" fill="#5B9BD5"/>
<text font-size="12.00" font-weight="400" fill="#000"><tspan x="848.20" y="414.63" font-size="12.36" letter-spacing="-0.070em" textLength="57.60" lengthAdjust="spacingAndGlyphs">スウェーデン</tspan></text>
<rect x="918.60" y="418.44" width="156.50" height="10.80" fill="#ED7D31"/>
<text font-size="12.00" font-weight="400" fill="#000"><tspan x="865.60" y="430.44" font-size="12.36" letter-spacing="-0.070em" textLength="40.20" lengthAdjust="spacingAndGlyphs">ベルギー</tspan></text>
<rect x="931.00" y="434.25" width="160.00" height="10.80" fill="#ED7D31"/>
<rect x="918.60" y="434.25" width="12.40" height="10.80" fill="#5B9BD5"/>
<text font-size="12.00" font-weight="400" fill="#000"><tspan x="858.10" y="446.25" font-size="12.36" letter-spacing="-0.070em" textLength="47.70" lengthAdjust="spacingAndGlyphs">エストニア</tspan></text>
<rect x="918.60" y="450.07" width="178.80" height="10.80" fill="#5B9BD5"/>
<text font-size="12.00" font-weight="400" fill="#000"><tspan x="847.20" y="462.07" font-size="12.36" letter-spacing="-0.070em" textLength="58.60" lengthAdjust="spacingAndGlyphs">キルギスタン</tspan></text>
<rect x="923.00" y="465.88" width="175.90" height="10.80" fill="#ED7D31"/>
<rect x="918.60" y="465.88" width="4.40" height="10.80" fill="#5B9BD5"/>
<text font-size="12.00" font-weight="400" fill="#000"><tspan x="878.50" y="477.88" font-size="12.36" letter-spacing="-0.070em" textLength="27.30" lengthAdjust="spacingAndGlyphs">ドイツ</tspan></text>
<rect x="932.00" y="481.69" width="186.20" height="10.80" fill="#ED7D31"/>
<rect x="918.60" y="481.69" width="13.40" height="10.80" fill="#5B9BD5"/>
<text font-size="12.00" font-weight="400" fill="#000"><tspan x="849.70" y="493.69" font-size="12.36" letter-spacing="-0.070em" textLength="56.10" lengthAdjust="spacingAndGlyphs">アイルランド</tspan></text>
<rect x="918.60" y="497.50" width="208.50" height="10.80" fill="#ED7D31"/>
<text font-size="12.00" font-weight="400" fill="#000"><tspan x="867.10" y="509.50" font-size="12.36" letter-spacing="-0.070em" textLength="38.70" lengthAdjust="spacingAndGlyphs">エジプト</tspan></text>
<rect x="918.60" y="513.31" width="208.50" height="10.80" fill="#ED7D31"/>
<text font-size="12.00" font-weight="400" fill="#000"><tspan x="850.70" y="525.31" font-size="12.36" letter-spacing="-0.070em" textLength="55.10" lengthAdjust="spacingAndGlyphs">モーリタニア</tspan></text>
<rect x="927.50" y="529.13" width="207.50" height="10.80" fill="#ED7D31"/>
<rect x="918.60" y="529.13" width="8.90" height="10.80" fill="#5B9BD5"/>
<text font-size="12.00" font-weight="400" fill="#000"><tspan x="880.40" y="541.31" font-size="12.00" textLength="25.40" lengthAdjust="spacingAndGlyphs">英国</tspan></text>
<rect x="1107.30" y="544.94" width="41.60" height="10.80" fill="#ED7D31"/>
<rect x="918.60" y="544.94" width="188.70" height="10.80" fill="#5B9BD5"/>
<text font-size="12.00" font-weight="400" fill="#000"><tspan x="848.20" y="556.94" font-size="12.36" letter-spacing="-0.070em" textLength="57.60" lengthAdjust="spacingAndGlyphs">カザフスタン</tspan></text>
<rect x="918.60" y="560.75" width="240.20" height="10.80" fill="#ED7D31"/>
<text font-size="12.00" font-weight="400" fill="#000"><tspan x="867.10" y="572.75" font-size="12.36" letter-spacing="-0.070em" textLength="38.70" lengthAdjust="spacingAndGlyphs">スペイン</tspan></text>
<rect x="918.60" y="576.56" width="241.70" height="10.80" fill="#ED7D31"/>
<text font-size="12.00" font-weight="400" fill="#000"><tspan x="855.70" y="588.56" font-size="12.36" letter-spacing="-0.070em" textLength="50.10" lengthAdjust="spacingAndGlyphs">ポルトガル</tspan></text>
<rect x="928.50" y="592.37" width="236.30" height="10.80" fill="#ED7D31"/>
<rect x="918.60" y="592.37" width="9.90" height="10.80" fill="#5B9BD5"/>
<text font-size="12.00" font-weight="400" fill="#000"><tspan x="858.10" y="604.37" font-size="12.36" letter-spacing="-0.070em" textLength="47.70" lengthAdjust="spacingAndGlyphs">デンマーク</tspan></text>
<rect x="959.70" y="608.19" width="271.50" height="10.80" fill="#ED7D31"/>
<rect x="918.60" y="608.19" width="41.10" height="10.80" fill="#5B9BD5"/>
<text font-size="12.00" font-weight="400" fill="#000"><tspan x="859.60" y="620.19" font-size="12.36" letter-spacing="-0.070em" textLength="46.20" lengthAdjust="spacingAndGlyphs">ノルウェー</tspan></text>
<rect x="988.90" y="624.00" width="284.40" height="10.80" fill="#ED7D31"/>
<rect x="918.60" y="624.00" width="70.30" height="10.80" fill="#5B9BD5"/>
<text font-size="12.00" font-weight="400" fill="#000"><tspan x="878.50" y="636.00" font-size="12.36" letter-spacing="-0.070em" textLength="27.30" lengthAdjust="spacingAndGlyphs">トルコ</tspan></text>
<rect x="918.60" y="639.81" width="364.60" height="10.80" fill="#ED7D31"/>
<text font-size="12.00" font-weight="400" fill="#000"><tspan x="868.50" y="651.81" font-size="12.36" letter-spacing="-0.070em" textLength="37.30" lengthAdjust="spacingAndGlyphs">オランダ</tspan></text>
<rect x="918.60" y="655.62" width="378.00" height="10.80" fill="#ED7D31"/>
<text font-size="12.00" font-weight="400" fill="#000"><tspan x="858.10" y="667.62" font-size="12.36" letter-spacing="-0.070em" textLength="47.70" lengthAdjust="spacingAndGlyphs">チュニジア</tspan></text>
<rect x="998.30" y="671.43" width="345.80" height="10.80" fill="#ED7D31"/>
<rect x="918.60" y="671.43" width="79.70" height="10.80" fill="#5B9BD5"/>
<text font-size="12.00" font-weight="400" fill="#000"><tspan x="854.70" y="683.43" font-size="12.36" letter-spacing="-0.070em" textLength="51.10" lengthAdjust="spacingAndGlyphs">ベラルーシ</tspan></text>
<rect x="920.60" y="687.25" width="424.50" height="10.80" fill="#ED7D31"/>
<rect x="918.60" y="687.25" width="2.00" height="10.80" fill="#5B9BD5"/>
<text font-size="12.00" font-weight="400" fill="#000"><tspan x="858.10" y="699.25" font-size="12.36" letter-spacing="-0.070em" textLength="47.70" lengthAdjust="spacingAndGlyphs">イスラエル</tspan></text>
<rect x="918.60" y="703.06" width="440.40" height="10.80" fill="#ED7D31"/>
<text font-size="12.00" font-weight="400" fill="#000"><tspan x="878.50" y="715.06" font-size="12.36" letter-spacing="-0.070em" textLength="27.30" lengthAdjust="spacingAndGlyphs">インド</tspan></text>
<rect x="918.60" y="718.87" width="477.00" height="10.80" fill="#5B9BD5"/>
<text font-size="12.00" font-weight="400" fill="#000"><tspan x="826.90" y="730.87" font-size="12.36" letter-spacing="-0.070em" textLength="78.90" lengthAdjust="spacingAndGlyphs">アゼルバイジャン</tspan></text>
<rect x="1105.80" y="734.68" width="298.80" height="10.80" fill="#ED7D31"/>
<rect x="918.60" y="734.68" width="187.20" height="10.80" fill="#5B9BD5"/>
<text font-size="12.00" font-weight="400" fill="#000"><tspan x="853.20" y="746.68" font-size="12.36" letter-spacing="-0.070em" textLength="52.60" lengthAdjust="spacingAndGlyphs">フィンランド</tspan></text>
<rect x="1257.40" y="750.49" width="155.60" height="10.80" fill="#ED7D31"/>
<rect x="918.60" y="750.49" width="338.80" height="10.80" fill="#5B9BD5"/>
<text font-size="12.00" font-weight="400" fill="#000"><tspan x="869.50" y="762.49" font-size="12.36" letter-spacing="-0.070em" textLength="36.30" lengthAdjust="spacingAndGlyphs">ラトビア</tspan></text>
<rect x="924.50" y="766.31" width="529.60" height="10.80" fill="#ED7D31"/>
<rect x="918.60" y="766.31" width="5.90" height="10.80" fill="#5B9BD5"/>
<text font-size="12.00" font-weight="400" fill="#000"><tspan x="880.40" y="778.49" font-size="12.00" textLength="25.40" lengthAdjust="spacingAndGlyphs">中国</tspan></text>
<rect x="1456.10" y="782.12" width="20.80" height="10.80" fill="#ED7D31"/>
<rect x="918.60" y="782.12" width="537.50" height="10.80" fill="#5B9BD5"/>
<text font-size="12.00" font-weight="400" fill="#000"><tspan x="858.10" y="794.12" font-size="12.36" letter-spacing="-0.070em" textLength="47.70" lengthAdjust="spacingAndGlyphs">ジョージア</tspan></text>
<rect x="947.80" y="797.93" width="530.60" height="10.80" fill="#ED7D31"/>
<rect x="918.60" y="797.93" width="29.20" height="10.80" fill="#5B9BD5"/>
<text font-size="12.00" font-weight="400" fill="#000"><tspan x="859.60" y="809.93" font-size="12.36" letter-spacing="-0.070em" textLength="46.20" lengthAdjust="spacingAndGlyphs">リトアニア</tspan></text>
<rect x="918.60" y="813.74" width="595.40" height="10.80" fill="#5B9BD5"/>
<text font-size="12.00" font-weight="400" fill="#000"><tspan x="867.10" y="825.74" font-size="12.36" letter-spacing="-0.070em" textLength="38.70" lengthAdjust="spacingAndGlyphs">モンゴル</tspan></text>
<rect x="918.60" y="829.55" width="618.20" height="10.80" fill="#5B9BD5"/>
<text font-size="12.00" font-weight="400" fill="#000"><tspan x="858.10" y="841.55" font-size="12.36" letter-spacing="-0.070em" textLength="47.70" lengthAdjust="spacingAndGlyphs">アルメニア</tspan></text>
<line x1="918.60" y1="368.00" x2="918.60" y2="842.80" stroke="#000" stroke-width="1.00"/>
<line x1="918.10" y1="842.30" x2="1545.00" y2="842.30" stroke="#000" stroke-width="1.00"/>
<text font-size="12.30" font-weight="400" fill="#000"><tspan x="912.46" y="865.20" font-size="12.30" textLength="7.69" lengthAdjust="spacingAndGlyphs">0</tspan></text>
<text font-size="12.30" font-weight="400" fill="#000"><tspan x="971.31" y="865.20" font-size="12.30" textLength="15.38" lengthAdjust="spacingAndGlyphs">10</tspan></text>
<text font-size="12.30" font-weight="400" fill="#000"><tspan x="1034.01" y="865.20" font-size="12.30" textLength="15.38" lengthAdjust="spacingAndGlyphs">20</tspan></text>
<text font-size="12.30" font-weight="400" fill="#000"><tspan x="1096.71" y="865.20" font-size="12.30" textLength="15.38" lengthAdjust="spacingAndGlyphs">30</tspan></text>
<text font-size="12.30" font-weight="400" fill="#000"><tspan x="1159.41" y="865.20" font-size="12.30" textLength="15.38" lengthAdjust="spacingAndGlyphs">40</tspan></text>
<text font-size="12.30" font-weight="400" fill="#000"><tspan x="1222.11" y="865.20" font-size="12.30" textLength="15.38" lengthAdjust="spacingAndGlyphs">50</tspan></text>
<text font-size="12.30" font-weight="400" fill="#000"><tspan x="1284.81" y="865.20" font-size="12.30" textLength="15.38" lengthAdjust="spacingAndGlyphs">60</tspan></text>
<text font-size="12.30" font-weight="400" fill="#000"><tspan x="1347.51" y="865.20" font-size="12.30" textLength="15.38" lengthAdjust="spacingAndGlyphs">70</tspan></text>
<text font-size="12.30" font-weight="400" fill="#000"><tspan x="1410.21" y="865.20" font-size="12.30" textLength="15.38" lengthAdjust="spacingAndGlyphs">80</tspan></text>
<text font-size="12.30" font-weight="400" fill="#000"><tspan x="1472.91" y="865.20" font-size="12.30" textLength="15.38" lengthAdjust="spacingAndGlyphs">90</tspan></text>
<text font-size="12.30" font-weight="400" fill="#000"><tspan x="1531.77" y="865.20" font-size="12.30" textLength="23.06" lengthAdjust="spacingAndGlyphs">100</tspan></text>
<text font-size="12.30" font-weight="400" fill="#000"><tspan x="1563.00" y="865.30" font-size="12.30" textLength="24.50" lengthAdjust="spacingAndGlyphs">(%)</tspan></text>
<rect x="911.50" y="875.50" width="227.00" height="32.40" fill="#fff" stroke="#000" stroke-width="1.1"/>
<rect x="933.00" y="888.30" width="6.60" height="6.60" fill="#5B9BD5"/>
<text font-size="12.00" font-weight="400" fill="#000"><tspan x="942.00" y="895.60" font-size="12.36" letter-spacing="-0.070em" textLength="30.85" lengthAdjust="spacingAndGlyphs">ロシア</tspan><tspan x="972.85" y="895.60" font-size="12.36" letter-spacing="-0.070em" textLength="10.72" lengthAdjust="spacingAndGlyphs">の</tspan><tspan x="983.57" y="895.78" font-size="12.00" textLength="24.93" lengthAdjust="spacingAndGlyphs">割合</tspan></text>
<rect x="1029.80" y="888.30" width="6.60" height="6.60" fill="#ED7D31"/>
<text font-size="12.00" font-weight="400" fill="#000"><tspan x="1039.00" y="895.60" font-size="12.36" letter-spacing="-0.070em" textLength="48.72" lengthAdjust="spacingAndGlyphs">ウクライナ</tspan><tspan x="1087.72" y="895.60" font-size="12.36" letter-spacing="-0.070em" textLength="10.16" lengthAdjust="spacingAndGlyphs">の</tspan><tspan x="1097.88" y="895.78" font-size="12.00" textLength="23.62" lengthAdjust="spacingAndGlyphs">割合</tspan></text>
<defs>
<pattern id="dotA" width="3.4" height="3.4" patternUnits="userSpaceOnUse"><rect width="3.4" height="3.4" fill="#20508A"/><rect x="0" y="0" width="1" height="1" fill="#5588D6"/><rect x="1.7" y="1.7" width="1" height="1" fill="#5588D6"/></pattern>
<pattern id="dotB" width="3.4" height="3.4" patternUnits="userSpaceOnUse"><rect width="3.4" height="3.4" fill="#27497F"/><rect x="0" y="0" width="1.1" height="1.1" fill="#15233B"/><rect x="1.7" y="1.7" width="1.1" height="1.1" fill="#15233B"/></pattern>
</defs>
<path d="M614.90,518.50 L614.90,436.30 A82.20,82.20 0 0 1 688.68,482.27 Z" fill="#5B9BD5" stroke="#fff" stroke-width="2.5" stroke-linejoin="round"/>
<path d="M614.90,518.50 L688.68,482.27 A82.20,82.20 0 0 1 689.57,552.86 Z" fill="#ED7D31" stroke="#fff" stroke-width="2.5" stroke-linejoin="round"/>
<path d="M614.90,518.50 L689.57,552.86 A82.20,82.20 0 0 1 635.38,598.11 Z" fill="#A5A5A5" stroke="#fff" stroke-width="2.5" stroke-linejoin="round"/>
<path d="M614.90,518.50 L635.38,598.11 A82.20,82.20 0 0 1 584.10,594.71 Z" fill="#FFC000" stroke="#fff" stroke-width="2.5" stroke-linejoin="round"/>
<path d="M614.90,518.50 L584.10,594.71 A82.20,82.20 0 0 1 551.14,570.38 Z" fill="#4472C4" stroke="#fff" stroke-width="2.5" stroke-linejoin="round"/>
<path d="M614.90,518.50 L551.14,570.38 A82.20,82.20 0 0 1 536.50,543.21 Z" fill="#70AD47" stroke="#fff" stroke-width="2.5" stroke-linejoin="round"/>
<path d="M614.90,518.50 L536.50,543.21 A82.20,82.20 0 0 1 532.70,519.28 Z" fill="url(#dotA)" stroke="#fff" stroke-width="2.5" stroke-linejoin="round"/>
<path d="M614.90,518.50 L532.70,519.28 A82.20,82.20 0 0 1 535.76,496.27 Z" fill="#9F550F" stroke="#fff" stroke-width="2.5" stroke-linejoin="round"/>
<path d="M614.90,518.50 L535.76,496.27 A82.20,82.20 0 0 1 540.23,484.14 Z" fill="#636363" stroke="#fff" stroke-width="2.5" stroke-linejoin="round"/>
<path d="M614.90,518.50 L540.23,484.14 A82.20,82.20 0 0 1 545.97,473.72 Z" fill="#9F550F" stroke="#fff" stroke-width="2.5" stroke-linejoin="round"/>
<path d="M614.90,518.50 L545.97,473.72 A82.20,82.20 0 0 1 614.90,436.30 Z" fill="url(#dotB)" stroke="#fff" stroke-width="2.5" stroke-linejoin="round"/>
<text font-size="20.00" font-weight="700" fill="#000"><tspan x="493.30" y="395.54" font-size="20.00" textLength="40.31" lengthAdjust="spacingAndGlyphs">世界</tspan><tspan x="533.61" y="396.00" font-size="21.40" letter-spacing="-0.070em" textLength="17.33" lengthAdjust="spacingAndGlyphs">の</tspan><tspan x="550.94" y="395.54" font-size="20.00" textLength="80.61" lengthAdjust="spacingAndGlyphs">小麦輸出</tspan><tspan x="631.55" y="395.54" font-size="20.00" textLength="20.15" lengthAdjust="spacingAndGlyphs">（</tspan><tspan x="651.70" y="396.00" font-size="20.00" textLength="51.99" lengthAdjust="spacingAndGlyphs">2020</tspan><tspan x="703.69" y="395.54" font-size="20.00" textLength="20.15" lengthAdjust="spacingAndGlyphs">年</tspan><tspan x="723.85" y="395.54" font-size="20.00" textLength="20.15" lengthAdjust="spacingAndGlyphs">）</tspan></text>
<text font-size="12.30" font-weight="700" fill="#000"><tspan x="557.00" y="418.02" font-size="12.30" textLength="24.56" lengthAdjust="spacingAndGlyphs">全体</tspan><tspan x="581.56" y="418.02" font-size="12.30" textLength="14.12" lengthAdjust="spacingAndGlyphs">：</tspan><tspan x="595.69" y="418.30" font-size="12.30" textLength="23.77" lengthAdjust="spacingAndGlyphs">448</tspan><tspan x="619.45" y="418.02" font-size="12.30" textLength="12.28" lengthAdjust="spacingAndGlyphs">億</tspan><tspan x="631.73" y="418.30" font-size="13.16" letter-spacing="-0.070em" textLength="20.27" lengthAdjust="spacingAndGlyphs">ドル</tspan></text>
<rect x="557.00" y="420.00" width="95.00" height="1.20" fill="#000"/>
<text font-size="12.50" font-weight="400" fill="#000"><tspan x="443.00" y="421.00" font-size="12.50" textLength="22.50" lengthAdjust="spacingAndGlyphs">(%)</tspan></text>
<text font-size="11.30" font-weight="400" fill="#000"><tspan x="671.40" y="449.80" font-size="11.64" letter-spacing="-0.070em" textLength="26.44" lengthAdjust="spacingAndGlyphs">ロシア</tspan><tspan x="697.84" y="449.80" font-size="11.30" textLength="31.36" lengthAdjust="spacingAndGlyphs">, 17.7</tspan></text>
<text font-size="11.30" font-weight="400" fill="#000"><tspan x="715.80" y="519.27" font-size="11.30" textLength="22.01" lengthAdjust="spacingAndGlyphs">米国</tspan><tspan x="737.81" y="519.10" font-size="11.30" textLength="32.29" lengthAdjust="spacingAndGlyphs">, 14.1</tspan></text>
<text font-size="11.30" font-weight="400" fill="#000"><tspan x="680.00" y="597.00" font-size="11.64" letter-spacing="-0.070em" textLength="25.89" lengthAdjust="spacingAndGlyphs">カナダ</tspan><tspan x="705.89" y="597.00" font-size="11.30" textLength="30.71" lengthAdjust="spacingAndGlyphs">, 14.1</tspan></text>
<text font-size="11.30" font-weight="400" fill="#000"><tspan x="577.20" y="617.80" font-size="11.64" letter-spacing="-0.070em" textLength="33.98" lengthAdjust="spacingAndGlyphs">フランス</tspan><tspan x="611.18" y="617.80" font-size="11.30" textLength="30.22" lengthAdjust="spacingAndGlyphs">, 10.1</tspan></text>
<text font-size="11.30" font-weight="400" fill="#000"><tspan x="485.90" y="604.00" font-size="11.64" letter-spacing="-0.070em" textLength="42.50" lengthAdjust="spacingAndGlyphs">ウクライナ</tspan><tspan x="528.40" y="604.00" font-size="11.30" textLength="23.80" lengthAdjust="spacingAndGlyphs">, 8.0</tspan></text>
<text font-size="11.30" font-weight="400" fill="#000"><tspan x="435.70" y="572.70" font-size="11.64" letter-spacing="-0.070em" textLength="58.93" lengthAdjust="spacingAndGlyphs">オーストラリア</tspan><tspan x="494.63" y="572.70" font-size="11.30" textLength="23.57" lengthAdjust="spacingAndGlyphs">, 6.0</tspan></text>
<text font-size="11.30" font-weight="400" fill="#000"><tspan x="462.80" y="539.90" font-size="11.64" letter-spacing="-0.070em" textLength="25.66" lengthAdjust="spacingAndGlyphs">ドイツ</tspan><tspan x="488.46" y="539.90" font-size="11.30" textLength="23.94" lengthAdjust="spacingAndGlyphs">, 4.7</tspan></text>
<text font-size="11.30" font-weight="400" fill="#000"><tspan x="433.90" y="514.50" font-size="11.64" letter-spacing="-0.070em" textLength="53.25" lengthAdjust="spacingAndGlyphs">アルゼンチン</tspan><tspan x="487.15" y="514.50" font-size="11.30" textLength="24.85" lengthAdjust="spacingAndGlyphs">, 4.5</tspan></text>
<text font-size="11.30" font-weight="400" fill="#000"><tspan x="439.00" y="489.60" font-size="11.64" letter-spacing="-0.070em" textLength="51.68" lengthAdjust="spacingAndGlyphs">カザフスタン</tspan><tspan x="490.68" y="489.60" font-size="11.30" textLength="24.12" lengthAdjust="spacingAndGlyphs">, 2.5</tspan></text>
<text font-size="11.30" font-weight="400" fill="#000"><tspan x="452.40" y="467.10" font-size="11.64" letter-spacing="-0.070em" textLength="44.10" lengthAdjust="spacingAndGlyphs">ポーランド</tspan><tspan x="496.50" y="467.10" font-size="11.30" textLength="24.70" lengthAdjust="spacingAndGlyphs">, 2.3</tspan></text>
<text font-size="11.30" font-weight="400" fill="#000"><tspan x="497.40" y="438.00" font-size="11.64" letter-spacing="-0.070em" textLength="18.86" lengthAdjust="spacingAndGlyphs">その</tspan><tspan x="516.26" y="438.17" font-size="11.30" textLength="10.96" lengthAdjust="spacingAndGlyphs">他</tspan><tspan x="527.22" y="438.00" font-size="11.30" textLength="32.18" lengthAdjust="spacingAndGlyphs">, 15.8</tspan></text>
<polyline points="562.2,438.4 567.8,438.4 576.2,446.8" fill="none" stroke="#9A9A9A" stroke-width="0.90"/>
<polyline points="524.3,466.3 529.9,466.3 542.9,479.5" fill="none" stroke="#9A9A9A" stroke-width="0.90"/>
<polyline points="516.8,490.7 537.3,490.7" fill="none" stroke="#9A9A9A" stroke-width="0.90"/>
<polyline points="514.2,514.8 519.7,514.8 533.5,508.3" fill="none" stroke="#9A9A9A" stroke-width="0.90"/>
<polyline points="514.2,540.2 519.7,540.2 534.5,532.3" fill="none" stroke="#9A9A9A" stroke-width="0.90"/>
<polyline points="517.8,572.0 523.4,572.0 542.8,558.2" fill="none" stroke="#9A9A9A" stroke-width="0.90"/>
<polyline points="554.8,603.9 560.3,603.9 565.8,585.3" fill="none" stroke="#9A9A9A" stroke-width="0.90"/>
<polyline points="667.4,581.2 672.9,596.9 678.5,596.9" fill="none" stroke="#9A9A9A" stroke-width="0.90"/>
<polyline points="696.0,517.0 708.0,519.4 714.5,519.4" fill="none" stroke="#9A9A9A" stroke-width="0.90"/>
<polyline points="658.1,449.2 663.0,450.2 669.3,450.2" fill="none" stroke="#9A9A9A" stroke-width="0.90"/>
<path d="M1417.60,523.60 L1417.60,441.80 A81.80,81.80 0 0 1 1499.20,529.25 Z" fill="#5B9BD5" stroke="#fff" stroke-width="2.0" stroke-linejoin="round"/>
<path d="M1417.60,523.60 L1499.20,529.25 A81.80,81.80 0 0 1 1454.28,596.72 Z" fill="#ED7D31" stroke="#fff" stroke-width="2.0" stroke-linejoin="round"/>
<path d="M1417.60,523.60 L1454.28,596.72 A81.80,81.80 0 0 1 1375.96,594.01 Z" fill="#A5A5A5" stroke="#fff" stroke-width="2.0" stroke-linejoin="round"/>
<path d="M1417.60,523.60 L1375.96,594.01 A81.80,81.80 0 0 1 1337.45,539.94 Z" fill="#FFC000" stroke="#fff" stroke-width="2.0" stroke-linejoin="round"/>
<path d="M1417.60,523.60 L1337.45,539.94 A81.80,81.80 0 0 1 1336.16,515.90 Z" fill="#4472C4" stroke="#fff" stroke-width="2.0" stroke-linejoin="round"/>
<path d="M1417.60,523.60 L1336.16,515.90 A81.80,81.80 0 0 1 1339.49,499.30 Z" fill="#70AD47" stroke="#fff" stroke-width="2.0" stroke-linejoin="round"/>
<path d="M1417.60,523.60 L1339.49,499.30 A81.80,81.80 0 0 1 1344.95,486.01 Z" fill="url(#dotA)" stroke="#fff" stroke-width="2.0" stroke-linejoin="round"/>
<path d="M1417.60,523.60 L1344.95,486.01 A81.80,81.80 0 0 1 1349.66,478.05 Z" fill="#9F550F" stroke="#fff" stroke-width="2.0" stroke-linejoin="round"/>
<path d="M1417.60,523.60 L1349.66,478.05 A81.80,81.80 0 0 1 1354.25,471.86 Z" fill="#636363" stroke="#fff" stroke-width="2.0" stroke-linejoin="round"/>
<path d="M1417.60,523.60 L1354.25,471.86 A81.80,81.80 0 0 1 1359.04,466.49 Z" fill="#9F550F" stroke="#fff" stroke-width="2.0" stroke-linejoin="round"/>
<path d="M1417.60,523.60 L1359.04,466.49 A81.80,81.80 0 0 1 1363.12,462.58 Z" fill="#264478" stroke="#fff" stroke-width="2.0" stroke-linejoin="round"/>
<path d="M1417.60,523.60 L1363.12,462.58 A81.80,81.80 0 0 1 1417.60,441.80 Z" fill="#43682B" stroke="#fff" stroke-width="2.0" stroke-linejoin="round"/>
<text font-size="20.00" font-weight="700" fill="#000"><tspan x="1269.20" y="401.24" font-size="20.00" textLength="39.90" lengthAdjust="spacingAndGlyphs">世界</tspan><tspan x="1309.10" y="401.70" font-size="21.40" letter-spacing="-0.070em" textLength="17.16" lengthAdjust="spacingAndGlyphs">の</tspan><tspan x="1326.25" y="401.70" font-size="21.40" letter-spacing="-0.070em" textLength="98.74" lengthAdjust="spacingAndGlyphs">トウモロコシ</tspan><tspan x="1424.99" y="401.24" font-size="20.00" textLength="39.90" lengthAdjust="spacingAndGlyphs">輸出</tspan><tspan x="1464.89" y="401.24" font-size="20.00" textLength="19.95" lengthAdjust="spacingAndGlyphs">（</tspan><tspan x="1484.84" y="401.70" font-size="20.00" textLength="51.47" lengthAdjust="spacingAndGlyphs">2020</tspan><tspan x="1536.30" y="401.24" font-size="20.00" textLength="19.95" lengthAdjust="spacingAndGlyphs">年</tspan><tspan x="1556.25" y="401.24" font-size="20.00" textLength="19.95" lengthAdjust="spacingAndGlyphs">）</tspan></text>
<text font-size="12.30" font-weight="700" fill="#000"><tspan x="1360.50" y="424.02" font-size="12.30" textLength="24.31" lengthAdjust="spacingAndGlyphs">全体</tspan><tspan x="1384.81" y="424.02" font-size="12.30" textLength="13.98" lengthAdjust="spacingAndGlyphs">：</tspan><tspan x="1398.78" y="424.30" font-size="12.30" textLength="23.52" lengthAdjust="spacingAndGlyphs">367</tspan><tspan x="1422.30" y="424.02" font-size="12.30" textLength="12.15" lengthAdjust="spacingAndGlyphs">億</tspan><tspan x="1434.45" y="424.30" font-size="13.16" letter-spacing="-0.070em" textLength="20.05" lengthAdjust="spacingAndGlyphs">ドル</tspan></text>
<rect x="1360.50" y="425.60" width="94.00" height="1.20" fill="#000"/>
<text font-size="12.00" font-weight="400" fill="#000"><tspan x="1237.40" y="425.30" font-size="12.00" textLength="21.50" lengthAdjust="spacingAndGlyphs">(%)</tspan></text>
<text font-size="11.30" font-weight="400" fill="#000"><tspan x="1491.70" y="470.17" font-size="11.30" textLength="21.68" lengthAdjust="spacingAndGlyphs">米国</tspan><tspan x="1513.38" y="470.00" font-size="11.30" textLength="31.82" lengthAdjust="spacingAndGlyphs">, 26.1</tspan></text>
<text font-size="11.30" font-weight="400" fill="#000"><tspan x="1522.30" y="575.40" font-size="11.64" letter-spacing="-0.070em" textLength="53.24" lengthAdjust="spacingAndGlyphs">アルゼンチン</tspan><tspan x="1575.54" y="575.40" font-size="11.30" textLength="31.56" lengthAdjust="spacingAndGlyphs">, 16.5</tspan></text>
<text font-size="11.30" font-weight="400" fill="#000"><tspan x="1385.70" y="627.70" font-size="11.64" letter-spacing="-0.070em" textLength="35.62" lengthAdjust="spacingAndGlyphs">ブラジル</tspan><tspan x="1421.32" y="627.70" font-size="11.30" textLength="31.68" lengthAdjust="spacingAndGlyphs">, 15.9</tspan></text>
<text font-size="11.30" font-weight="400" fill="#000"><tspan x="1254.90" y="611.50" font-size="11.64" letter-spacing="-0.070em" textLength="42.54" lengthAdjust="spacingAndGlyphs">ウクライナ</tspan><tspan x="1297.44" y="611.50" font-size="11.30" textLength="30.26" lengthAdjust="spacingAndGlyphs">, 13.3</tspan></text>
<text font-size="11.30" font-weight="400" fill="#000"><tspan x="1243.70" y="570.90" font-size="11.64" letter-spacing="-0.070em" textLength="34.00" lengthAdjust="spacingAndGlyphs">フランス</tspan><tspan x="1277.70" y="570.90" font-size="11.30" textLength="23.80" lengthAdjust="spacingAndGlyphs">, 4.7</tspan></text>
<text font-size="11.30" font-weight="400" fill="#000"><tspan x="1232.00" y="547.20" font-size="11.64" letter-spacing="-0.070em" textLength="44.23" lengthAdjust="spacingAndGlyphs">ルーマニア</tspan><tspan x="1276.23" y="547.20" font-size="11.30" textLength="24.77" lengthAdjust="spacingAndGlyphs">, 3.3</tspan></text>
<text font-size="11.30" font-weight="400" fill="#000"><tspan x="1242.40" y="519.30" font-size="11.64" letter-spacing="-0.070em" textLength="42.69" lengthAdjust="spacingAndGlyphs">ハンガリー</tspan><tspan x="1285.09" y="519.30" font-size="11.30" textLength="23.91" lengthAdjust="spacingAndGlyphs">, 2.8</tspan></text>
<text font-size="11.30" font-weight="400" fill="#000"><tspan x="1246.90" y="495.60" font-size="11.64" letter-spacing="-0.070em" textLength="35.47" lengthAdjust="spacingAndGlyphs">セルビア</tspan><tspan x="1282.37" y="495.60" font-size="11.30" textLength="24.83" lengthAdjust="spacingAndGlyphs">, 1.8</tspan></text>
<text font-size="11.30" font-weight="400" fill="#000"><tspan x="1249.40" y="475.87" font-size="11.30" textLength="10.15" lengthAdjust="spacingAndGlyphs">南</tspan><tspan x="1259.55" y="475.70" font-size="11.64" letter-spacing="-0.070em" textLength="33.50" lengthAdjust="spacingAndGlyphs">アフリカ</tspan><tspan x="1293.05" y="475.70" font-size="11.30" textLength="23.45" lengthAdjust="spacingAndGlyphs">, 1.5</tspan></text>
<text font-size="11.30" font-weight="400" fill="#000"><tspan x="1244.90" y="456.70" font-size="11.64" letter-spacing="-0.070em" textLength="42.82" lengthAdjust="spacingAndGlyphs">ブルガリア</tspan><tspan x="1287.72" y="456.70" font-size="11.30" textLength="23.98" lengthAdjust="spacingAndGlyphs">, 1.4</tspan></text>
<text font-size="11.30" font-weight="400" fill="#000"><tspan x="1277.80" y="434.30" font-size="11.64" letter-spacing="-0.070em" textLength="26.43" lengthAdjust="spacingAndGlyphs">ロシア</tspan><tspan x="1304.23" y="434.30" font-size="11.30" textLength="24.67" lengthAdjust="spacingAndGlyphs">, 1.1</tspan></text>
<text font-size="11.30" font-weight="400" fill="#000"><tspan x="1353.30" y="441.80" font-size="11.64" letter-spacing="-0.070em" textLength="18.58" lengthAdjust="spacingAndGlyphs">その</tspan><tspan x="1371.88" y="441.97" font-size="11.30" textLength="10.80" lengthAdjust="spacingAndGlyphs">他</tspan><tspan x="1382.69" y="441.80" font-size="11.30" textLength="31.71" lengthAdjust="spacingAndGlyphs">, 11.6</tspan></text>
<polyline points="1478.7,464.7 1484.7,469.7 1491.2,469.7" fill="none" stroke="#9A9A9A" stroke-width="0.90"/>
<polyline points="1486.2,568.9 1514.1,578.9 1519.1,578.9" fill="none" stroke="#9A9A9A" stroke-width="0.90"/>
<polyline points="1414.4,604.3 1414.4,613.7" fill="none" stroke="#9A9A9A" stroke-width="0.90"/>
<polyline points="1350.8,571.4 1335.1,611.3 1328.9,611.3" fill="none" stroke="#9A9A9A" stroke-width="0.90"/>
<polyline points="1337.1,527.5 1309.0,571.1 1304.0,571.1" fill="none" stroke="#9A9A9A" stroke-width="0.90"/>
<polyline points="1337.6,507.6 1306.7,545.7 1301.7,545.7" fill="none" stroke="#9A9A9A" stroke-width="0.90"/>
<polyline points="1341.6,493.4 1316.0,520.3 1311.0,520.3" fill="none" stroke="#9A9A9A" stroke-width="0.90"/>
<polyline points="1347.1,482.7 1314.7,495.9 1308.5,495.9" fill="none" stroke="#9A9A9A" stroke-width="0.90"/>
<polyline points="1352.1,474.7 1324.7,475.9 1318.4,475.9" fill="none" stroke="#9A9A9A" stroke-width="0.90"/>
<polyline points="1356.6,468.9 1319.7,457.2 1313.5,457.2" fill="none" stroke="#9A9A9A" stroke-width="0.90"/>
<polyline points="1361.6,464.7 1336.6,434.3 1330.9,434.3" fill="none" stroke="#9A9A9A" stroke-width="0.90"/>
<text font-size="19.40" font-weight="400" fill="#000"><tspan x="48.00" y="1062.79" font-size="19.40" textLength="39.44" lengthAdjust="spacingAndGlyphs">資料</tspan><tspan x="87.44" y="1062.79" font-size="19.40" textLength="22.68" lengthAdjust="spacingAndGlyphs">：</tspan><tspan x="110.12" y="1062.50" font-size="19.40" textLength="135.88" lengthAdjust="spacingAndGlyphs">UN Comtrade</tspan></text>
<text font-size="19.40" font-weight="400" fill="#000"><tspan x="48.00" y="1087.79" font-size="19.40" textLength="39.16" lengthAdjust="spacingAndGlyphs">備考</tspan><tspan x="87.16" y="1087.50" font-size="19.40" textLength="12.24" lengthAdjust="spacingAndGlyphs">1</tspan><tspan x="99.40" y="1087.79" font-size="19.40" textLength="22.52" lengthAdjust="spacingAndGlyphs">：</tspan><tspan x="121.92" y="1087.79" font-size="19.40" textLength="39.16" lengthAdjust="spacingAndGlyphs">小麦</tspan><tspan x="161.08" y="1087.50" font-size="19.98" letter-spacing="-0.070em" textLength="16.84" lengthAdjust="spacingAndGlyphs">は</tspan><tspan x="177.92" y="1087.50" font-size="19.40" textLength="76.11" lengthAdjust="spacingAndGlyphs">HS1001</tspan><tspan x="254.03" y="1087.79" font-size="19.40" textLength="18.60" lengthAdjust="spacingAndGlyphs">、</tspan><tspan x="272.63" y="1087.50" font-size="19.98" letter-spacing="-0.070em" textLength="96.93" lengthAdjust="spacingAndGlyphs">トウモロコシ</tspan><tspan x="369.55" y="1087.50" font-size="19.98" letter-spacing="-0.070em" textLength="16.84" lengthAdjust="spacingAndGlyphs">は</tspan><tspan x="386.39" y="1087.50" font-size="19.40" textLength="76.11" lengthAdjust="spacingAndGlyphs">HS1005</tspan><tspan x="462.50" y="1087.79" font-size="19.40" textLength="18.60" lengthAdjust="spacingAndGlyphs">、</tspan><tspan x="481.10" y="1087.79" font-size="19.40" textLength="39.16" lengthAdjust="spacingAndGlyphs">小麦</tspan><tspan x="520.26" y="1087.50" font-size="19.98" letter-spacing="-0.070em" textLength="117.88" lengthAdjust="spacingAndGlyphs">ととうもろこし</tspan><tspan x="638.14" y="1087.79" font-size="19.40" textLength="39.16" lengthAdjust="spacingAndGlyphs">輸出</tspan><tspan x="677.30" y="1087.50" font-size="19.98" letter-spacing="-0.070em" textLength="16.84" lengthAdjust="spacingAndGlyphs">の</tspan><tspan x="694.14" y="1087.79" font-size="19.40" textLength="78.32" lengthAdjust="spacingAndGlyphs">世界順位</tspan><tspan x="772.47" y="1087.50" font-size="19.98" letter-spacing="-0.070em" textLength="16.84" lengthAdjust="spacingAndGlyphs">は</tspan><tspan x="789.30" y="1087.50" font-size="19.40" textLength="48.95" lengthAdjust="spacingAndGlyphs">2020</tspan><tspan x="838.26" y="1087.79" font-size="19.40" textLength="58.74" lengthAdjust="spacingAndGlyphs">年時点</tspan></text>
<text font-size="19.40" font-weight="400" fill="#000"><tspan x="48.00" y="1112.79" font-size="19.40" textLength="39.39" lengthAdjust="spacingAndGlyphs">備考</tspan><tspan x="87.39" y="1112.50" font-size="19.40" textLength="12.31" lengthAdjust="spacingAndGlyphs">2</tspan><tspan x="99.69" y="1112.79" font-size="19.40" textLength="22.65" lengthAdjust="spacingAndGlyphs">：</tspan><tspan x="122.34" y="1112.79" font-size="19.40" textLength="39.39" lengthAdjust="spacingAndGlyphs">全体</tspan><tspan x="161.73" y="1112.50" font-size="19.98" letter-spacing="-0.070em" textLength="16.94" lengthAdjust="spacingAndGlyphs">と</tspan><tspan x="178.66" y="1112.50" font-size="19.98" letter-spacing="-0.070em" textLength="48.74" lengthAdjust="spacingAndGlyphs">シェア</tspan><tspan x="227.40" y="1112.50" font-size="19.98" letter-spacing="-0.070em" textLength="16.94" lengthAdjust="spacingAndGlyphs">は</tspan><tspan x="244.34" y="1112.50" font-size="19.40" textLength="49.23" lengthAdjust="spacingAndGlyphs">2020</tspan><tspan x="293.57" y="1112.79" font-size="19.40" textLength="19.69" lengthAdjust="spacingAndGlyphs">年</tspan><tspan x="313.26" y="1112.50" font-size="19.98" letter-spacing="-0.070em" textLength="16.94" lengthAdjust="spacingAndGlyphs">の</tspan><tspan x="330.20" y="1112.50" font-size="19.98" letter-spacing="-0.070em" textLength="48.74" lengthAdjust="spacingAndGlyphs">データ</tspan><tspan x="378.94" y="1112.50" font-size="19.98" letter-spacing="-0.070em" textLength="16.94" lengthAdjust="spacingAndGlyphs">を</tspan><tspan x="395.87" y="1112.79" font-size="19.40" textLength="39.39" lengthAdjust="spacingAndGlyphs">報国</tspan><tspan x="435.26" y="1112.50" font-size="19.98" letter-spacing="-0.070em" textLength="67.74" lengthAdjust="spacingAndGlyphs">している</tspan><tspan x="503.00" y="1112.79" font-size="19.40" textLength="19.69" lengthAdjust="spacingAndGlyphs">国</tspan><tspan x="522.69" y="1112.50" font-size="19.98" letter-spacing="-0.070em" textLength="48.74" lengthAdjust="spacingAndGlyphs">ベース</tspan><tspan x="571.43" y="1112.50" font-size="19.98" letter-spacing="-0.070em" textLength="16.94" lengthAdjust="spacingAndGlyphs">で</tspan><tspan x="588.37" y="1112.79" font-size="19.40" textLength="39.39" lengthAdjust="spacingAndGlyphs">算出</tspan><tspan x="627.75" y="1112.50" font-size="19.98" letter-spacing="-0.070em" textLength="67.74" lengthAdjust="spacingAndGlyphs">しており</tspan><tspan x="695.49" y="1112.79" font-size="19.40" textLength="18.71" lengthAdjust="spacingAndGlyphs">、</tspan><tspan x="714.20" y="1112.79" font-size="19.40" textLength="39.39" lengthAdjust="spacingAndGlyphs">今後</tspan><tspan x="753.59" y="1112.50" font-size="19.98" letter-spacing="-0.070em" textLength="16.94" lengthAdjust="spacingAndGlyphs">の</tspan><tspan x="770.52" y="1112.79" font-size="19.40" textLength="78.77" lengthAdjust="spacingAndGlyphs">集計次第</tspan><tspan x="849.29" y="1112.50" font-size="19.98" letter-spacing="-0.070em" textLength="16.94" lengthAdjust="spacingAndGlyphs">で</tspan><tspan x="866.23" y="1112.79" font-size="19.40" textLength="39.39" lengthAdjust="spacingAndGlyphs">数値</tspan><tspan x="905.62" y="1112.50" font-size="19.98" letter-spacing="-0.070em" textLength="16.94" lengthAdjust="spacingAndGlyphs">が</tspan><tspan x="922.55" y="1112.79" font-size="19.40" textLength="19.69" lengthAdjust="spacingAndGlyphs">変</tspan><tspan x="942.24" y="1112.50" font-size="19.98" letter-spacing="-0.070em" textLength="33.87" lengthAdjust="spacingAndGlyphs">わる</tspan><tspan x="976.11" y="1112.79" font-size="19.40" textLength="59.08" lengthAdjust="spacingAndGlyphs">可能性</tspan><tspan x="1035.19" y="1112.50" font-size="19.98" letter-spacing="-0.070em" textLength="50.81" lengthAdjust="spacingAndGlyphs">がある</tspan></text>
<text font-size="29.60" font-weight="400" fill="#000"><tspan x="1576.00" y="1111.80" font-size="29.60" textLength="36.00" lengthAdjust="spacingAndGlyphs">15</tspan></text>
</svg>
</body></html>
